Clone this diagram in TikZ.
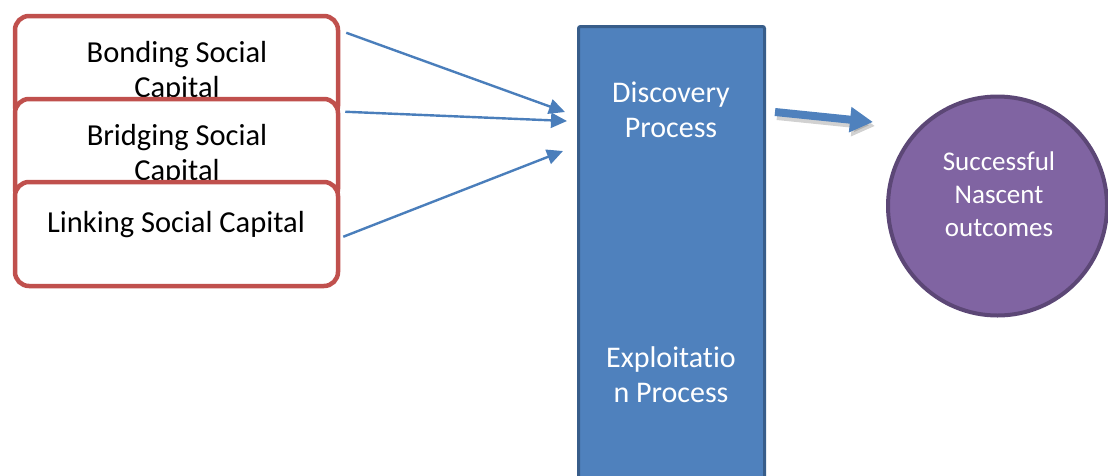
\documentclass[tikz,border=0pt]{standalone}
\usepackage{fontspec}
\setmainfont{Carlito}[Ligatures=NoCommon]
\usetikzlibrary{arrows.meta}
\definecolor{capred}{HTML}{C0504D}
\definecolor{barblue}{HTML}{4F81BD}
\definecolor{bardark}{HTML}{385D8A}
\definecolor{linkblue}{HTML}{4A7EBB}
\definecolor{outpurple}{HTML}{8064A2}
\definecolor{outdark}{HTML}{5C4776}
\begin{document}
\begin{tikzpicture}[x=1pt,y=-1pt]
    \tikzstyle{every node}+=[inner sep=0pt]
    \tikzstyle{capbox}=[draw=capred, line width=4.5pt, fill=white, rounded corners=14pt, minimum width=323pt, minimum height=104pt]
    \tikzstyle{captext}=[align=center, font=\fontsize{30.5}{35}\selectfont]
    \tikzstyle{bartext}=[align=center, text=white, font=\fontsize{30}{35}\selectfont]
    \tikzstyle{link}=[draw=linkblue, line width=2.4pt, -{Triangle[length=16pt,width=15pt]}]
    \useasboundingbox (0,0) rectangle (1108,475);
    \node [capbox] (bonding) at (176.5,68) {};
    \node [captext, anchor=north] (bondinglbl) at (177,41) {Bonding Social\\Capital};
    \node [capbox] (bridging) at (176.5,151) {};
    \node [captext, anchor=north] (bridginglbl) at (177,124) {Bridging Social\\Capital};
    \node [capbox] (linking) at (176.5,234) {};
    \node [captext, anchor=base] (linkinglbl) at (176,232) {Linking Social Capital};
    \node [draw=bardark, line width=3pt, fill=barblue, rounded corners=2pt, minimum width=186pt, minimum height=463pt] (proc) at (671.5,258) {};
    \node [bartext, anchor=north] (discovery) at (671,82) {Discovery\\Process};
    \node [bartext, anchor=north] (exploitation) at (671,346) {Exploitatio\\n Process};
    \node [circle, draw=outdark, line width=4pt, fill=outpurple, minimum size=219pt] (outcome) at (997.5,206) {};
    \node [align=center, text=white, font=\fontsize{27}{33}\selectfont, anchor=north] (outcomelbl) at (999,152) {Successful\\Nascent\\outcomes};
    \draw [link] ([shift={(6,19)}]bonding.north east) -- ([shift={(-12,87)}]proc.north west);
    \draw [link] ([shift={(5,15)}]bridging.north east) -- ([shift={(-10,96)}]proc.north west);
    \draw [link] ([shift={(3,57)}]linking.north east) -- ([shift={(-14,126)}]proc.north west);
    \draw [black!60, opacity=0.3, line width=8pt, -{Triangle[length=23pt,width=24pt]}] ([shift={(11,91)}]proc.north east) -- ([shift={(-11,-80)}]outcome.west);
    \draw [barblue, line width=8pt, -{Triangle[length=23pt,width=24pt]}] ([shift={(9,87)}]proc.north east) -- ([shift={(-13,-84)}]outcome.west);
\end{tikzpicture}
\end{document}
